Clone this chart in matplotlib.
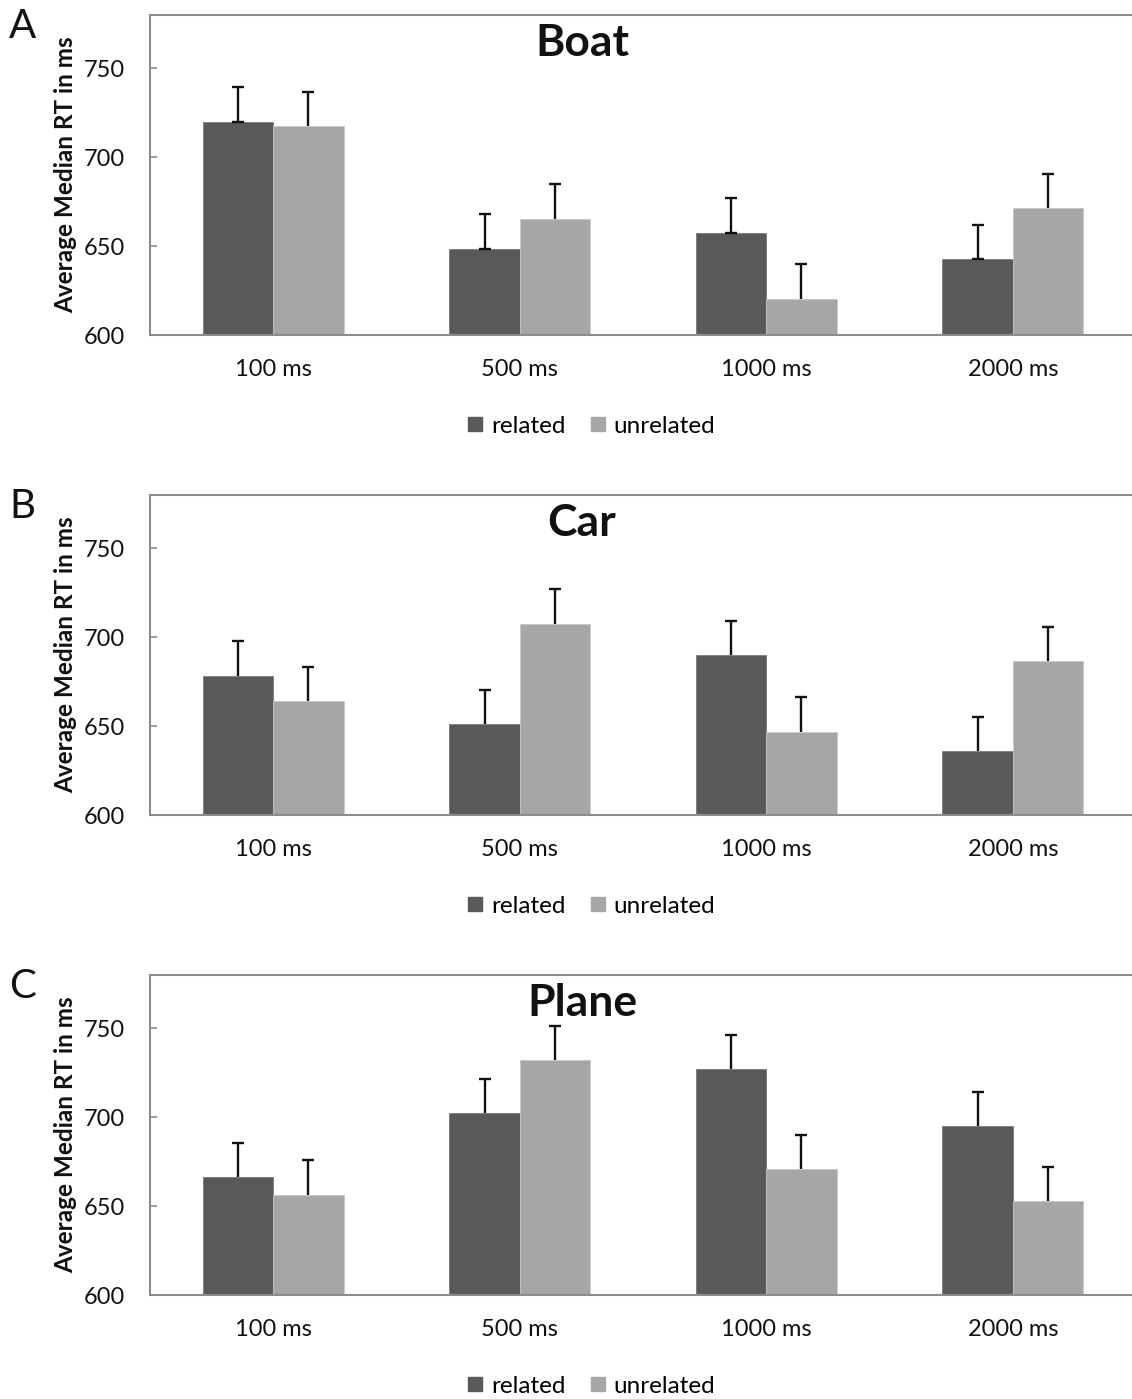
import matplotlib
matplotlib.use("Agg")
import matplotlib.pyplot as plt
from matplotlib.lines import Line2D
import numpy as np

plt.rcParams['font.family'] = ['Lato', 'DejaVu Sans']

categories = ["100 ms", "500 ms", "1000 ms", "2000 ms"]
series_names = ["related", "unrelated"]
panel_letters = ["A", "B", "C"]
panel_titles = ["Boat", "Car", "Plane"]

boat_related = [720.0, 648.5, 657.5, 642.5]
boat_unrelated = [717.5, 665.5, 620.5, 671.3]
car_related = [678.4, 651.0, 689.9, 636.1]
car_unrelated = [664.1, 707.6, 646.8, 686.7]
plane_related = [666.3, 702.1, 727.0, 694.8]
plane_unrelated = [656.4, 732.1, 670.6, 652.8]
error_value = 19.3

yticks = [600, 650, 700, 750]

panels = [
    (boat_related, boat_unrelated),
    (car_related, car_unrelated),
    (plane_related, plane_unrelated),
]

W, H = 1132, 1399
fig = plt.figure(figsize=(W / 100, H / 100), dpi=100)

dark = "#595959"
light = "#a6a6a6"
spine_c = "#8c8c8c"

tops = [15, 495, 975]
bottoms = [335, 815, 1295]
left_px = 150
cat_px = 246.5
bar_w = 0.285

for i, (rel, unrel) in enumerate(panels):
    top, bot = tops[i], bottoms[i]
    ax = fig.add_axes([left_px / W, 1 - bot / H, (W - left_px) / W, (bot - top) / H])
    x = np.arange(len(categories))
    ax.bar(x - bar_w / 2, [v - 600 for v in rel], bottom=600, width=bar_w, color=dark,
           edgecolor="#7a7a7a", linewidth=0.6, zorder=2)
    ax.bar(x + bar_w / 2, [v - 600 for v in unrel], bottom=600, width=bar_w, color=light,
           edgecolor="#c8c8c8", linewidth=0.6, zorder=2)
    for xs, vals, keep_lower in [(x - bar_w / 2, rel, i == 0), (x + bar_w / 2, unrel, False)]:
        eb = ax.errorbar(xs, vals, yerr=[[0] * len(vals), [error_value] * len(vals)],
                         fmt="none", ecolor="#111111", elinewidth=1.7, capsize=4.5,
                         capthick=1.7, zorder=3)
        caps = eb[1]
        if not keep_lower and len(caps) > 1:
            caps[0].set_visible(False)
    ax.set_ylim(600, 780)
    ax.set_xlim(-0.5, -0.5 + (W - left_px) / cat_px)
    ax.set_yticks(yticks)
    ax.set_xticks(x)
    ax.set_xticklabels(categories)
    ax.tick_params(axis="y", direction="in", length=5, width=1.2, color=spine_c,
                   labelsize=17, pad=18, labelcolor="#111111")
    ax.tick_params(axis="x", length=0, labelsize=17, pad=17, labelcolor="#111111")
    for s in ["top", "bottom", "left"]:
        ax.spines[s].set_color(spine_c)
        ax.spines[s].set_linewidth(1.5)
    ax.spines["right"].set_visible(False)
    ax.set_ylabel("Average Median RT in ms", fontsize=17.5, fontweight="bold",
                  labelpad=5, color="#111111")
    fig.text(582 / W, 1 - (top + 28) / H, panel_titles[i], fontsize=32, fontweight="bold",
             ha="center", va="center", color="#111111")
    fig.text(9 / W, 1 - (top + 12) / H, panel_letters[i], fontsize=29,
             ha="left", va="center", color="#111111")
    handles = [Line2D([], [], marker="s", linestyle="none", markersize=10.5,
                      markerfacecolor=dark, markeredgecolor=dark),
               Line2D([], [], marker="s", linestyle="none", markersize=10.5,
                      markerfacecolor=light, markeredgecolor=light)]
    fig.legend(handles, series_names, loc="center", ncol=2,
               bbox_to_anchor=(591 / W, 1 - (bot + 91) / H), frameon=False,
               fontsize=17.5, handlelength=0.7, handletextpad=0.3, columnspacing=1.0)

fig.savefig("out.png", dpi=100, facecolor="white")
